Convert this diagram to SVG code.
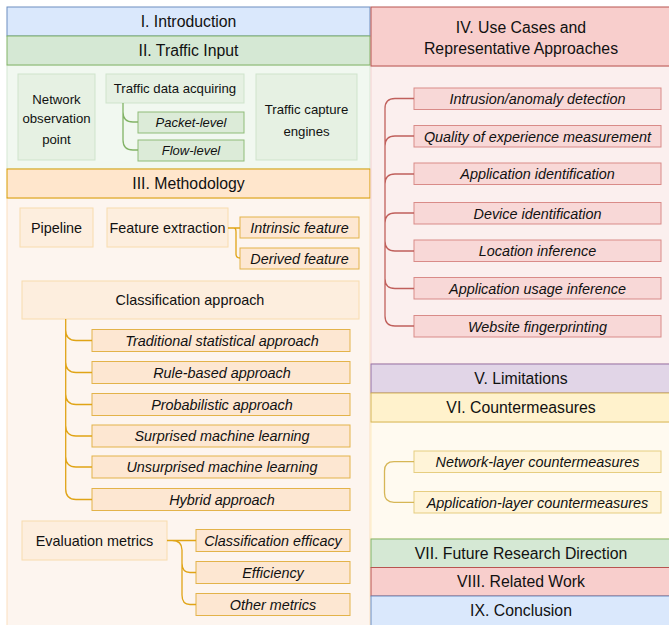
<svg xmlns="http://www.w3.org/2000/svg" width="669" height="625" viewBox="0 0 669 625">
<style>
text{font-family:"Liberation Sans",Arial,sans-serif;fill:#111;text-anchor:middle;dominant-baseline:central}
.h{font-size:15.8px}
.n{font-size:14.4px}
.i{font-size:14.4px;font-style:italic}
.t{font-size:13.2px}
.ti{font-size:13px;font-style:italic}
.blue{fill:#dae8fc;stroke:#6c8ebf}
.green{fill:#d5e8d4;stroke:#82b366}
.orange{fill:#ffe6cc;stroke:#d79b00}
.red{fill:#f8cecc;stroke:#b85450}
.purple{fill:#e1d5e7;stroke:#9673a6}
.yellow{fill:#fff2cc;stroke:#d6b656}
.gbody{fill:#f1f8f0;stroke:#d5e8d4}
.obody{fill:#fdf5ef;stroke:#fbe0c0}
.rbody{fill:#fbefee;stroke:#f3d2d0}
.ybody{fill:#fffaf0;stroke:#fdebc0}
.gnode{fill:#e6f1e3;stroke:#cfe3cb}
.gchild{fill:#dcebd8;stroke:#8fbc78}
.onode{fill:#fdeede;stroke:#f8dcae}
.ochild{fill:#fde7d2;stroke:#e3b34a}
.rchild{fill:#f8d8d7;stroke:#d98b88}
.ychild{fill:#fff4d8;stroke:#e6cd80}
.c{fill:none;stroke-width:1.3}
</style>
<g id="sec1"><rect class="blue" x="7" y="7" width="363" height="29"/><text class="h" x="188.5" y="21.5">I. Introduction</text></g>
<g id="sec2body"><rect class="gbody" x="7" y="65" width="363" height="104"/></g>
<g id="sec2"><rect class="green" x="7" y="36" width="363" height="29"/><text class="h" x="188.5" y="50.5">II. Traffic Input</text></g>
<g id="nop"><rect class="gnode" x="18" y="74" width="77" height="86"/><text class="t" x="56.5" y="99">Network</text><text class="t" x="56.5" y="118">observation</text><text class="t" x="56.5" y="139">point</text></g>
<g id="tda"><rect class="gnode" x="106" y="74" width="138" height="29"/><text class="t" x="175" y="88.5">Traffic data acquiring</text></g>
<g id="pkt"><rect class="gchild" x="138" y="112" width="106" height="21"/><text class="ti" x="191" y="122.5">Packet-level</text></g>
<g id="flow"><rect class="gchild" x="138" y="140" width="106" height="21"/><text class="ti" x="191" y="150.5">Flow-level</text></g>
<g id="tce"><rect class="gnode" x="256" y="74" width="101" height="86"/><text class="t" x="306.5" y="109">Traffic capture</text><text class="t" x="306.5" y="131">engines</text></g>

<g id="sec3body"><rect class="obody" x="7" y="198" width="363" height="440"/></g>
<g id="sec3"><rect class="orange" x="7" y="169" width="363" height="29"/><text class="h" x="188.5" y="183.5">III. Methodology</text></g>
<g id="pipe"><rect class="onode" x="20" y="208" width="73" height="39"/><text class="n" x="56.5" y="227.5">Pipeline</text></g>
<g id="fe"><rect class="onode" x="107" y="208" width="121" height="39"/><text class="n" x="167.5" y="227.5">Feature extraction</text></g>
<g id="intr"><rect class="ochild" x="240" y="217" width="119" height="21"/><text class="i" x="299.5" y="227.5">Intrinsic feature</text></g>
<g id="der"><rect class="ochild" x="240" y="248" width="119" height="21"/><text class="i" x="299.5" y="258.5">Derived feature</text></g>
<g id="ca"><rect class="onode" x="22" y="281" width="337" height="38"/><text class="n" x="190" y="300">Classification approach</text></g>
<g id="tsa"><rect class="ochild" x="92" y="329.5" width="258" height="22"/><text class="i" x="222" y="340.5">Traditional statistical approach</text></g>
<g id="rba"><rect class="ochild" x="92" y="361.5" width="258" height="22"/><text class="i" x="222" y="372.5">Rule-based approach</text></g>
<g id="pa"><rect class="ochild" x="92" y="393.5" width="258" height="22"/><text class="i" x="222" y="404.5">Probabilistic approach</text></g>
<g id="sml"><rect class="ochild" x="92" y="425" width="258" height="22"/><text class="i" x="222" y="436">Surprised machine learning</text></g>
<g id="uml"><rect class="ochild" x="92" y="456" width="258" height="22"/><text class="i" x="222" y="467">Unsurprised machine learning</text></g>
<g id="hyb"><rect class="ochild" x="92" y="488.5" width="258" height="22"/><text class="i" x="222" y="499.5">Hybrid approach</text></g>
<g id="em"><rect class="onode" x="22" y="521" width="145" height="39"/><text class="n" x="94.5" y="540.5">Evaluation metrics</text></g>
<g id="cle"><rect class="ochild" x="196" y="529.5" width="154" height="22"/><text class="i" x="273" y="540.5">Classification efficacy</text></g>
<g id="eff"><rect class="ochild" x="196" y="561.5" width="154" height="22"/><text class="i" x="273" y="572.5">Efficiency</text></g>
<g id="oth"><rect class="ochild" x="196" y="593.5" width="154" height="22"/><text class="i" x="273" y="604.5">Other metrics</text></g>

<g id="sec4body"><rect class="rbody" x="371" y="66" width="301" height="298"/></g>
<g id="sec4"><rect class="red" x="371" y="7" width="301" height="59"/><text class="h" x="521" y="27">IV. Use Cases and</text><text class="h" x="521" y="48">Representative Approaches</text></g>
<g id="u1"><rect class="rchild" x="414" y="88" width="247" height="21.5"/><text class="i" x="537.5" y="99">Intrusion/anomaly detection</text></g>
<g id="u2"><rect class="rchild" x="414" y="125.5" width="247" height="21.5"/><text class="i" x="537.5" y="136.5">Quality of experience measurement</text></g>
<g id="u3"><rect class="rchild" x="414" y="163" width="247" height="21.5"/><text class="i" x="537.5" y="174">Application identification</text></g>
<g id="u4"><rect class="rchild" x="414" y="202.5" width="247" height="21.5"/><text class="i" x="537.5" y="213.5">Device identification</text></g>
<g id="u5"><rect class="rchild" x="414" y="240" width="247" height="21.5"/><text class="i" x="537.5" y="251">Location inference</text></g>
<g id="u6"><rect class="rchild" x="414" y="277.5" width="247" height="21.5"/><text class="i" x="537.5" y="288.5">Application usage inference</text></g>
<g id="u7"><rect class="rchild" x="414" y="315.5" width="247" height="21.5"/><text class="i" x="537.5" y="326.5">Website fingerprinting</text></g>

<g id="sec5"><rect class="purple" x="371" y="364" width="301" height="29"/><text class="h" x="521" y="378.5">V. Limitations</text></g>
<g id="sec6body"><rect class="ybody" x="371" y="422" width="301" height="117"/></g>
<g id="sec6"><rect class="yellow" x="371" y="393" width="301" height="29"/><text class="h" x="521" y="407.5">VI. Countermeasures</text></g>
<g id="cm1"><rect class="ychild" x="414" y="451" width="247" height="21.5"/><text class="i" x="537.5" y="462">Network-layer countermeasures</text></g>
<g id="cm2"><rect class="ychild" x="414" y="491.5" width="247" height="21.5"/><text class="i" x="537.5" y="502.5">Application-layer countermeasures</text></g>
<g id="sec7"><rect class="green" x="371" y="539" width="301" height="28.5"/><text class="h" x="521" y="553">VII. Future Research Direction</text></g>
<g id="sec8"><rect class="red" x="371" y="567.5" width="301" height="28.5"/><text class="h" x="521" y="581.5">VIII. Related Work</text></g>
<g id="sec9"><rect class="blue" x="371" y="596" width="301" height="40"/><text class="h" x="521" y="610">IX. Conclusion</text></g>

<g id="connectors">
<path class="c" stroke="#82b366" d="M123 103 V112 Q123 122 133 122 H138 M123 112 V140 Q123 150 133 150 H138"/>
<path class="c" stroke="#e0a416" d="M228 228 H240 M234 228 Q236 228 236 232 V254 Q236 258 240 258"/>
<path class="c" stroke="#e0a416" d="M65.7 319 V489 Q65.7 499.5 76 499.5 H92 M65.7 330 Q65.7 340.5 76 340.5 H92 M65.7 362 Q65.7 372.5 76 372.5 H92 M65.7 394 Q65.7 404.5 76 404.5 H92 M65.7 425.5 Q65.7 436 76 436 H92 M65.7 456.5 Q65.7 467 76 467 H92"/>
<path class="c" stroke="#e0a416" d="M167 540.5 H196 M172 540.5 Q182 540.5 182 550 V595 Q182 604.5 190 604.5 H196 M182 563 Q182 572.5 190 572.5 H196"/>
<path class="c" stroke="#c0605c" d="M414 98.5 H395 Q385 98.5 385 108.5 V316 Q385 326 395 326 H414 M385 146 Q385 136 395 136 H414 M385 184 Q385 174 395 174 H414 M385 223 Q385 213 395 213 H414 M385 241 Q385 251 395 251 H414 M385 278.5 Q385 288.5 395 288.5 H414"/>
<path class="c" stroke="#d6b656" d="M414 461.7 H394 Q384.5 461.7 384.5 471 V493 Q384.5 502.3 394 502.3 H414"/>
</g>
</svg>
